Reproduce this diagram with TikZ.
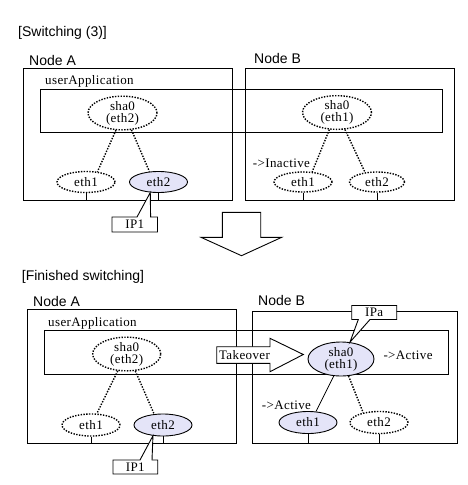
\documentclass[tikz,border=0pt]{standalone}
\usepackage{fontspec}
\setmainfont{Liberation Serif}[LetterSpace=3]
\newfontfamily\titlefont{Liberation Sans}
\usetikzlibrary{shapes.geometric}
\definecolor{ethfill}{RGB}{228,228,248}
\tikzset{
  box/.style={draw, line width=0.9pt},
  ell/.style={ellipse, draw, inner sep=0pt, line width=0.9pt, font=\fontsize{13}{12}\selectfont, align=center},
  dotell/.style={ell, fill=white, line width=1.4pt, dash pattern=on 1.4pt off 1.4pt},
  actell/.style={ell, fill=ethfill},
  dotline/.style={line width=1.4pt, dash pattern=on 1.4pt off 1.4pt},
  solidline/.style={line width=0.8pt},
  tick/.style={line width=0.8pt},
  lbl/.style={font=\fontsize{13}{12}\selectfont, inner sep=0pt, anchor=west},
  ttl/.style={font=\titlefont\fontsize{14}{14}\selectfont, inner sep=0pt, anchor=west},
  txt/.style={font=\fontsize{13}{12}\selectfont, inner sep=0pt},
}
\begin{document}
\begin{tikzpicture}[x=1pt,y=-1pt]
\useasboundingbox[fill=white] (0,0) rectangle (467,485);

% ---------------- top: Switching (3)
\node[ttl] (t1) at (18,33) {[Switching (3)]};
\node[ttl] (na1) at (29,60) {Node A};
\node[ttl] (nb1) at (254,58) {Node B};
\draw[box] (23,68) rectangle (232,200);
\draw[box] (245.5,68) rectangle (454,200);
\coordinate (bot1) at (0,200);
\node[lbl] (ua1) at (45,81) {userApplication};
\draw[box] (40.7,89) rectangle (442.7,132);

\node[dotell, minimum width=69pt, minimum height=30pt] (sa1) at (122.5,113) {sha0\\(eth2)};
\node[dotell, minimum width=58pt, minimum height=21pt] (ea11) at (86,182) {eth1};
\node[actell, minimum width=58pt, minimum height=21pt] (ea12) at (158.5,182) {eth2};
\node[dotell, minimum width=69pt, minimum height=31pt] (sb1) at (337,112.5) {sha0\\(eth1)};
\node[dotell, minimum width=58pt, minimum height=20pt] (eb11) at (303,182) {eth1};
\node[dotell, minimum width=55pt, minimum height=20pt] (eb12) at (377,182) {eth2};

\draw[dotline] (sa1.-111) -- (ea11.42);
\draw[dotline] (sa1.-62) -- (ea12.131);
\draw[dotline] (sb1.-114) -- (eb11.48);
\draw[dotline] (sb1.-65) -- (eb12.141);

\draw[tick] (ea11.south) -- (ea11.south |- bot1);
\draw[tick] (ea12.south) -- (ea12.south |- bot1);
\draw[tick] (eb11.south) -- (eb11.south |- bot1);
\draw[tick] (eb12.south) -- (eb12.south |- bot1);

\node[lbl] (inact) at (252.7,163.5) {->Inactive};

\draw[box, fill=white] (112,217) -- (137,217) -- (ea12.-128) -- (150.6,217) -- (157.5,217) -- (157.5,232) -- (112,232) -- cycle;
\node[txt] (ip1a) at (134.8,224.5) {IP1};

% ---------------- down arrow
\draw[box, fill=white] (222.3,212.3) -- (260.7,212.3) -- (260.7,237.3) -- (281.7,237.3) -- (241.5,255.7) -- (201,237.3) -- (222.3,237.3) -- cycle;

% ---------------- bottom: Finished switching
\node[ttl] (t2) at (21.7,277) {[Finished switching]};
\node[ttl] (na2) at (33,301.7) {Node A};
\node[ttl] (nb2) at (258,300.7) {Node B};
\draw[box] (27.3,309.3) rectangle (236.7,443.3);
\draw[box] (252.5,311) rectangle (457.5,443.3);
\coordinate (bot2) at (0,443.3);
\node[lbl] (ua2) at (48,323) {userApplication};
\draw[box] (44.3,330.5) rectangle (448.3,374.5);

\node[dotell, minimum width=68pt, minimum height=32pt] (sa2) at (126.7,354) {sha0\\(eth2)};
\node[dotell, minimum width=58pt, minimum height=22pt] (ea21) at (91,425) {eth1};
\node[actell, minimum width=58pt, minimum height=22pt] (ea22) at (163,425) {eth2};
\node[actell, minimum width=66pt, minimum height=34pt] (sb2) at (341,359) {sha0\\(eth1)};
\node[actell, minimum width=58pt, minimum height=22pt] (eb21) at (308,422.5) {eth1};
\node[dotell, minimum width=58pt, minimum height=22pt] (eb22) at (379,422.5) {eth2};

\draw[dotline] (sa2.-118) -- (ea21.63);
\draw[dotline] (sa2.-63) -- (ea22.129);
\draw[solidline] (sb2.-113) -- (eb21.54);
\draw[dotline] (sb2.-66) -- (eb22.148);

\draw[tick] (ea21.south) -- (ea21.south |- bot2);
\draw[tick] (ea22.south) -- (ea22.south |- bot2);
\draw[tick] (eb21.south) -- (eb21.south |- bot2);
\draw[tick] (eb22.south) -- (eb22.south |- bot2);

\node[lbl] (act1) at (383.3,355.7) {->Active};
\node[lbl] (act2) at (261.7,405.7) {->Active};

% Takeover arrow
\draw[box, fill=white] (216.7,346.7) -- (270,346.7) -- (270,338.3) -- (303.3,354.5) -- (270,371.7) -- (270,363.3) -- (216.7,363.3) -- cycle;
\node[txt] (tko) at (244.5,355.5) {Takeover};

% IP1 callout
\draw[box, fill=white] (113,460) -- (140,460) -- (ea22.-133) -- (152,460) -- (157.7,460) -- (157.7,474) -- (113,474) -- cycle;
\node[txt] (ip1b) at (135.3,467) {IP1};

% IPa callout
\draw[box, fill=white] (351.7,305.5) -- (396.7,305.5) -- (396.7,319.5) -- (370,319.5) -- (sb2.62) -- (358.3,319.5) -- (351.7,319.5) -- cycle;
\node[txt] (ipa) at (374.2,312.5) {IPa};
\end{tikzpicture}
\end{document}
